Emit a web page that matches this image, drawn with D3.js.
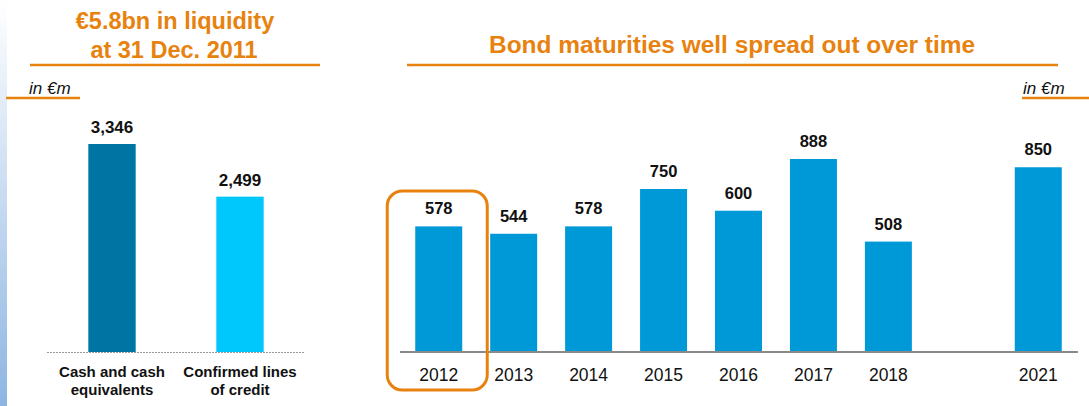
<!DOCTYPE html>
<html>
<head>
<meta charset="utf-8">
<script src="https://cdn.jsdelivr.net/npm/d3@7"></script>
<style>
    body { margin: 0; background: #fff; }
    svg { display: block; font-family: Arial, "Liberation Sans", sans-serif; }
</style>
</head>
<body>
<div id="chart"></div>
<script>
// Liquidez a 31 dic 2011 y vencimientos de bonos

const liquidityLabels = [['Cash and cash', 'equivalents'], ['Confirmed lines', 'of credit']];
const liquidityValues = [3346, 2499];
const liquidityColors = ['#0074a2', '#00c8fc'];

const bondYears = ['2012', '2013', '2014', '2015', '2016', '2017', '2018', 'gap', '2021'];
// altura de barra tal como está dibujada (la de 2016 sale más alta que su etiqueta)
const bondHeights = [578, 544, 578, 750, 650, 888, 508, null, 850];
const bondLabels = ['578', '544', '578', '750', '600', '888', '508', '', '850'];

const orange = '#e8820f';
const width = 1089, height = 406;

const svg = d3.select('#chart').append('svg')
    .attr('width', width)
    .attr('height', height);

// Franja degradada a la izquierda
const grad = svg.append('defs').append('linearGradient')
    .attr('id', 'edge').attr('x1', 0).attr('y1', 0).attr('x2', 0).attr('y2', 1);
grad.append('stop').attr('offset', '0%').attr('stop-color', '#ffffff');
grad.append('stop').attr('offset', '100%').attr('stop-color', '#8db5e2');
svg.append('rect').attr('x', 0).attr('y', 0).attr('width', 7).attr('height', height)
    .attr('fill', 'url(#edge)');

// ---------- Panel izquierdo ----------
const titleLeft = svg.append('text')
    .attr('text-anchor', 'middle')
    .attr('font-size', '23.5px').attr('font-weight', 'bold').attr('fill', orange);
titleLeft.append('tspan').attr('x', 175).attr('y', 29).text('€5.8bn in liquidity');
titleLeft.append('tspan').attr('x', 174).attr('y', 58).text('at 31 Dec. 2011');
svg.append('line').attr('x1', 30).attr('x2', 320).attr('y1', 65).attr('y2', 65)
    .attr('stroke', orange).attr('stroke-width', 2.5);

svg.append('text').attr('x', 29).attr('y', 94)
    .attr('font-size', '17px').attr('font-style', 'italic').attr('fill', '#111')
    .text('in €m');
svg.append('line').attr('x1', 6).attr('x2', 80).attr('y1', 98).attr('y2', 98)
    .attr('stroke', orange).attr('stroke-width', 2.5);

const xL = d3.scaleBand()
    .domain(d3.range(liquidityValues.length))
    .range([48, 304])
    .paddingInner(0.63)
    .paddingOuter(0.315);
const yL = d3.scaleLinear().domain([0, 3346]).range([352, 144]);

svg.append('line').attr('x1', 47).attr('x2', 304).attr('y1', 352.5).attr('y2', 352.5)
    .attr('stroke', '#9a9a9a').attr('stroke-width', 1).attr('stroke-dasharray', '2,1');

svg.selectAll('rect.liq')
    .data(liquidityValues)
    .enter()
    .append('rect')
    .attr('class', 'liq')
    .attr('x', (d, i) => xL(i))
    .attr('width', xL.bandwidth())
    .attr('y', d => yL(d))
    .attr('height', d => yL(0) - yL(d))
    .attr('fill', (d, i) => liquidityColors[i]);

svg.selectAll('text.liq-val')
    .data(liquidityValues)
    .enter()
    .append('text')
    .attr('class', 'liq-val')
    .attr('x', (d, i) => xL(i) + xL.bandwidth() / 2)
    .attr('y', d => yL(d) - 11)
    .attr('text-anchor', 'middle')
    .attr('font-size', '17px').attr('font-weight', 'bold').attr('fill', '#111')
    .text(d => d3.format(',')(d));

liquidityLabels.forEach((lines, i) => {
    const t = svg.append('text')
        .attr('text-anchor', 'middle')
        .attr('font-size', '15px').attr('font-weight', 'bold').attr('fill', '#111');
    lines.forEach((ln, j) => {
        t.append('tspan')
            .attr('x', xL(i) + xL.bandwidth() / 2)
            .attr('y', 377 + j * 18)
            .text(ln);
    });
});

// ---------- Panel derecho ----------
svg.append('text')
    .attr('x', 732).attr('y', 53).attr('text-anchor', 'middle')
    .attr('font-size', '23px').attr('font-weight', 'bold').attr('fill', orange)
    .attr('textLength', 486).attr('lengthAdjust', 'spacingAndGlyphs')
    .text('Bond maturities well spread out over time');
svg.append('line').attr('x1', 407).attr('x2', 1058).attr('y1', 65).attr('y2', 65)
    .attr('stroke', orange).attr('stroke-width', 2.5);

svg.append('text').attr('x', 1023).attr('y', 94)
    .attr('font-size', '17px').attr('font-style', 'italic').attr('fill', '#111')
    .text('in €m');
svg.append('line').attr('x1', 1022).attr('x2', 1089).attr('y1', 98).attr('y2', 98)
    .attr('stroke', orange).attr('stroke-width', 2.5);

const xR = d3.scaleBand()
    .domain(bondYears)
    .range([401, 1076])
    .paddingInner(0.373)
    .paddingOuter(0.19);
const yR = d3.scaleLinear().domain([0, 888]).range([352, 159]);

const bonds = bondYears.map((y, i) => ({ year: y, value: bondHeights[i], label: bondLabels[i] }))
    .filter(d => d.value !== null);

svg.selectAll('rect.bond')
    .data(bonds)
    .enter()
    .append('rect')
    .attr('class', 'bond')
    .attr('x', d => xR(d.year))
    .attr('width', xR.bandwidth())
    .attr('y', d => yR(d.value))
    .attr('height', d => yR(0) - yR(d.value))
    .attr('fill', '#0099d8');

svg.append('line').attr('x1', 400).attr('x2', 1078).attr('y1', 352).attr('y2', 352)
    .attr('stroke', '#8a8a8a').attr('stroke-width', 2);

svg.selectAll('text.bond-val')
    .data(bonds)
    .enter()
    .append('text')
    .attr('class', 'bond-val')
    .attr('x', d => xR(d.year) + xR.bandwidth() / 2)
    .attr('y', d => yR(d.value) - 12)
    .attr('text-anchor', 'middle')
    .attr('font-size', '16.5px').attr('font-weight', 'bold').attr('fill', '#111')
    .text(d => d.label);

svg.selectAll('text.bond-year')
    .data(bonds)
    .enter()
    .append('text')
    .attr('class', 'bond-year')
    .attr('x', d => xR(d.year) + xR.bandwidth() / 2)
    .attr('y', 381)
    .attr('text-anchor', 'middle')
    .attr('font-size', '17.5px').attr('fill', '#111')
    .text(d => d.year);

// Resalta 2012
svg.append('rect')
    .attr('x', xR('2012') - 28).attr('y', 191)
    .attr('width', 100).attr('height', 199)
    .attr('rx', 15).attr('ry', 15)
    .attr('fill', 'none').attr('stroke', orange).attr('stroke-width', 3);
</script>
</body>
</html>
